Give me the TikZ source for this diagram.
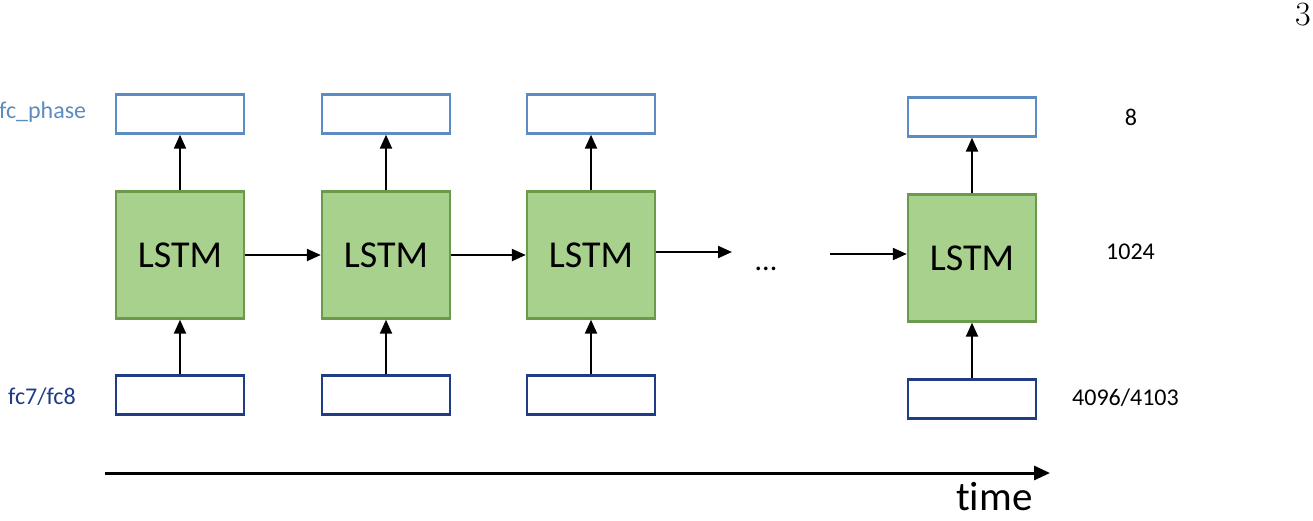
\documentclass[tikz,border=0pt]{standalone}
\usepackage{fontspec}
\newfontfamily\calibri[Ligatures=NoCommon]{Carlito}
\usetikzlibrary{arrows.meta}
\definecolor{lstmgreen}{HTML}{A9D18E}
\definecolor{lstmedge}{HTML}{6A9A4A}
\definecolor{phaseblue}{HTML}{5B8CC2}
\definecolor{fcblue}{HTML}{1F3C85}
\begin{document}
\begin{tikzpicture}[x=1pt,y=-1pt,
  lstm/.style={draw=lstmedge,fill=lstmgreen,line width=2.4pt,minimum width=128pt,minimum height=127pt,inner sep=0pt,font=\calibri\fontsize{38}{40}\selectfont},
  outbox/.style={draw=phaseblue,line width=2.4pt,minimum width=128pt,minimum height=39pt,inner sep=0pt},
  inbox/.style={draw=fcblue,line width=2.4pt,minimum width=128pt,minimum height=39pt,inner sep=0pt},
  arr/.style={-{Triangle[length=14pt,width=12pt]},line width=2.2pt},
  lbl/.style={font=\calibri\fontsize{24}{26}\selectfont,inner sep=0pt}]
\useasboundingbox (0,0) rectangle (1313,520);

\node[outbox] (out1) at (180,114) {};
\node[lstm] (lstm1) at (180,255) {LSTM};
\node[inbox] (in1) at (180,395) {};

\node[outbox] (out2) at (386,114) {};
\node[lstm] (lstm2) at (386,255) {LSTM};
\node[inbox] (in2) at (386,395) {};

\node[outbox] (out3) at (591,114) {};
\node[lstm] (lstm3) at (591,255) {LSTM};
\node[inbox] (in3) at (591,395) {};

\node[outbox] (out4) at (972,117) {};
\node[lstm] (lstm4) at (972,258) {LSTM};
\node[inbox] (in4) at (972,399) {};

\draw[arr] (in1) -- (lstm1);
\draw[arr] (lstm1) -- (out1);
\draw[arr] (in2) -- (lstm2);
\draw[arr] (lstm2) -- (out2);
\draw[arr] (in3) -- (lstm3);
\draw[arr] (lstm3) -- (out3);
\draw[arr] (in4) -- (lstm4);
\draw[arr] (lstm4) -- (out4);

\node[font=\calibri\fontsize{30}{32}\selectfont,anchor=base] (dots) at (766,270) {...};
\coordinate (dotsin) at (732,252);
\coordinate (dotsout) at (830,254);

\draw[arr] (lstm1.east) -- (lstm2.west);
\draw[arr] (lstm2.east) -- (lstm3.west);
\draw[arr] (lstm3.east |- dotsin) -- (dotsin);
\draw[arr] (dotsout) -- (dotsout -| lstm4.west);

\node[lbl,anchor=west,text=phaseblue] (phase) at (-1,112) {fc\_phase};
\node[lbl,anchor=west,text=fcblue] (fc) at (8,397) {fc7/fc8};
\node[lbl] (eight) at (1131,117) {8};
\node[lbl,anchor=west] (hidden) at (1106,252) {1024};
\node[lbl,anchor=west] (feat) at (1072,398) {4096/4103};

\coordinate (tstart) at (105,473);
\coordinate (tend) at (1050,473);
\draw[-{Triangle[length=16pt,width=14pt]},line width=3pt] (tstart) -- (tend);
\node[font=\calibri\fontsize{41}{43}\selectfont,anchor=base west,inner sep=0pt] (time) at (956,510) {time};

\node[font=\fontsize{34}{36}\selectfont,anchor=base east,inner sep=0pt] (page) at (1311,25) {3};
\end{tikzpicture}
\end{document}
